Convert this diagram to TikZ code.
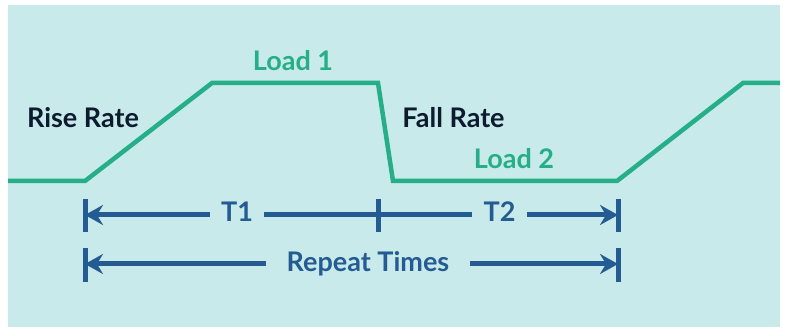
\documentclass[tikz,border=0pt]{standalone}
\usepackage{fontspec}
\setmainfont{Lato}
\usetikzlibrary{arrows.meta}
\definecolor{bgc}{HTML}{C8EAEA}
\definecolor{gr}{HTML}{25AE88}
\definecolor{nv}{HTML}{0D1B2E}
\definecolor{bl}{HTML}{245B92}
\tikzset{
  wave/.style={draw=gr, line width=4.5pt, line join=miter},
  dimline/.style={draw=bl, line width=5pt},
  dimarrow/.style={dimline, -{Stealth[length=18pt,width=20pt,inset=6pt]}},
  tick/.style={draw=bl, line width=5pt},
  darklbl/.style={text=nv, font=\bfseries\fontsize{27}{32}\selectfont, anchor=base, inner sep=0pt},
  greenlbl/.style={text=gr, font=\bfseries\fontsize{27}{32}\selectfont, anchor=base, inner sep=0pt},
  dimlbl/.style={text=bl, font=\bfseries\fontsize{27}{32}\selectfont, anchor=base, inner ysep=0pt},
}
\begin{document}
\begin{tikzpicture}[x=1pt,y=1pt]
\useasboundingbox (0,0) rectangle (788,336);
\fill[bgc] (8,9) rectangle (780,331);
% waveform
\draw[wave] (8,155) -- (85,155) -- (212,253) -- (378,253) -- (393,155) -- (617,155) -- (743,253) -- (780,253);
% labels
\node[darklbl] (rise) at (83,208) {Rise Rate};
\node[darklbl] (fall) at (453.5,208) {Fall Rate};
\node[greenlbl] (l1) at (293,265.5) {Load 1};
\node[greenlbl] (l2) at (514,167) {Load 2};
% dimension coordinates
\coordinate (a1) at (85,121);
\coordinate (a2) at (378,121);
\coordinate (a3) at (618,121);
\coordinate (b1) at (85,72);
\coordinate (b3) at (618,72);
\node[dimlbl, inner xsep=11pt] (t1) at (237,114) {T1};
\node[dimlbl, inner xsep=11pt] (t2) at (499.5,114) {T2};
\node[dimlbl, inner xsep=21pt] (rep) at (368,64) {Repeat Times};
% ticks
\foreach \c in {a1,a2,a3}{\draw[tick] ([yshift=16pt]\c) -- ([yshift=-17pt]\c);}
\foreach \c in {b1,b3}{\draw[tick] ([yshift=16pt]\c) -- ([yshift=-18pt]\c);}
% dimension lines
\draw[dimarrow] (t1.west |- a1) -- (a1);
\draw[dimline] (t1.east |- a1) -- (a2);
\draw[dimline] (t2.west |- a2) -- (a2);
\draw[dimarrow] (t2.east |- a3) -- (a3);
\draw[dimarrow] (rep.west |- b1) -- (b1);
\draw[dimarrow] (rep.east |- b3) -- (b3);
\end{tikzpicture}
\end{document}
